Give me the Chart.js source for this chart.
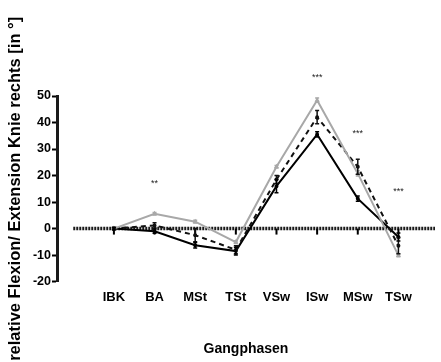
<!DOCTYPE html>
<html>
<head>
<meta charset="utf-8">
<script src="https://cdn.jsdelivr.net/npm/chart.js@4.4.1/dist/chart.umd.min.js"></script>
<style>
  html, body { margin: 0; padding: 0; background: #fff; }
  #wrap { width: 441px; height: 362px; }
</style>
</head>
<body>
<div id="wrap"><canvas id="chart" width="441" height="362"></canvas></div>
<script>
const phases = ['IBK', 'BA', 'MSt', 'TSt', 'VSw', 'ISw', 'MSw', 'TSw'];
const yTicks = [-20, -10, 0, 10, 20, 30, 40, 50];

const greyValues = [0, 5.6, 2.6, -5.1, 23.3, 48.4, 20.8, -10.1];
const blackValues = [0, -1.0, -6.3, -8.5, 16, 35.5, 11.3, -3.2];
const dashedValues = [0, 1.2, -2.5, -8.0, 18.5, 42, 23.3, -6.5];

const greyErr = [0.3, 0.5, 0.5, 0.5, 0.5, 0.8, 1.0, 0.5];
const blackErr = [0.5, 0.8, 1.0, 1.5, 2.5, 1.0, 1.0, 1.5];
const dashedErr = [0.3, 1.0, 2.5, 1.5, 1.5, 2.5, 2.8, 3.0];

const stars = ['', '**', '', '', '', '***', '***', '***'];
const starLevel = [null, 17, null, null, null, 57, 36, 14];

const font = 'Arial, "Liberation Sans", sans-serif';

function toPoints(values) {
    return values.map((v, i) => ({ x: i, y: v }));
}

const errorBarsPlugin = {
    id: 'errorBars',
    beforeDatasetsDraw(chart) {
        // Prism-style x axis sitting at y = 0
        const ctx = chart.ctx;
        const x = chart.scales.x;
        const y = chart.scales.y;
        const y0 = y.getPixelForValue(0);
        ctx.save();
        ctx.strokeStyle = '#1a1a1a';
        ctx.lineWidth = 3.5;
        ctx.setLineDash([2, 1]);
        ctx.beginPath();
        ctx.moveTo(x.getPixelForValue(-1), y0);
        ctx.lineTo(chart.chartArea.right, y0);
        ctx.stroke();
        ctx.setLineDash([]);
        ctx.fillStyle = '#000';
        phases.forEach((p, i) => {
            const px = x.getPixelForValue(i);
            ctx.fillRect(px - 1, y0, 2, 6);
        });
        ctx.restore();
    },
    afterDatasetsDraw(chart) {
        const ctx = chart.ctx;
        const x = chart.scales.x;
        const y = chart.scales.y;
        ctx.save();
        chart.data.datasets.forEach(ds => {
            ctx.strokeStyle = ds.borderColor;
            ctx.lineWidth = 1.5;
            ds.data.forEach((pt, i) => {
                const e = ds.errors[i];
                const px = x.getPixelForValue(pt.x);
                const top = y.getPixelForValue(pt.y + e);
                const bot = y.getPixelForValue(pt.y - e);
                ctx.beginPath();
                ctx.moveTo(px, top);
                ctx.lineTo(px, bot);
                ctx.moveTo(px - 2, top);
                ctx.lineTo(px + 2, top);
                ctx.moveTo(px - 2, bot);
                ctx.lineTo(px + 2, bot);
                ctx.stroke();
            });
        });
        ctx.fillStyle = '#222';
        ctx.font = '9px ' + font;
        ctx.textAlign = 'center';
        ctx.textBaseline = 'middle';
        stars.forEach((s, i) => {
            if (!s) return;
            ctx.fillText(s, x.getPixelForValue(i), y.getPixelForValue(starLevel[i]));
        });
        ctx.restore();
    }
};

new Chart(document.getElementById('chart'), {
    type: 'line',
    data: {
        datasets: [
            {
                label: 'grau',
                data: toPoints(greyValues),
                errors: greyErr,
                borderColor: '#a8a8a8',
                backgroundColor: '#a8a8a8',
                borderWidth: 2,
                pointRadius: 1,
                pointStyle: 'triangle'
            },
            {
                label: 'gestrichelt',
                data: toPoints(dashedValues),
                errors: dashedErr,
                borderColor: '#111',
                backgroundColor: '#111',
                borderWidth: 2,
                borderDash: [5, 4],
                pointRadius: 1
            },
            {
                label: 'schwarz',
                data: toPoints(blackValues),
                errors: blackErr,
                borderColor: '#000',
                backgroundColor: '#000',
                borderWidth: 2,
                pointRadius: 1
            }
        ]
    },
    options: {
        responsive: false,
        animation: false,
        layout: { padding: { top: 96, right: 0, bottom: 4, left: 0 } },
        plugins: {
            legend: { display: false },
            tooltip: { enabled: false }
        },
        scales: {
            x: {
                type: 'linear',
                min: -1.4,
                max: 7.9,
                afterBuildTicks: scale => {
                    scale.ticks = phases.map((p, i) => ({ value: i }));
                },
                grid: { display: false, drawTicks: false },
                border: { display: false },
                ticks: {
                    autoSkip: false,
                    maxRotation: 0,
                    padding: 8,
                    color: '#000',
                    font: { family: font, size: 13, weight: 'bold' },
                    callback: value => phases[value]
                },
                title: {
                    display: true,
                    text: 'Gangphasen',
                    color: '#000',
                    font: { family: font, size: 14, weight: 'bold' },
                    padding: { top: 28, bottom: 0 }
                }
            },
            y: {
                min: -20,
                max: 50,
                afterBuildTicks: scale => {
                    scale.ticks = yTicks.map(v => ({ value: v }));
                },
                afterFit: scale => {
                    scale.width = 57;
                },
                grid: {
                    drawOnChartArea: false,
                    drawTicks: true,
                    tickLength: 5,
                    tickWidth: 2,
                    tickColor: '#000'
                },
                border: { display: true, color: '#1a1a1a', width: 3, dash: [2, 1] },
                ticks: {
                    padding: 1,
                    color: '#000',
                    font: { family: font, size: 12.5, weight: 'bold' }
                },
                title: {
                    display: true,
                    text: 'relative Flexion/ Extension Knie rechts [in °]',
                    color: '#000',
                    font: { family: font, size: 16.5, weight: 'bold' },
                    padding: { top: 6, bottom: 0 }
                }
            }
        }
    },
    plugins: [errorBarsPlugin]
});
</script>
</body>
</html>
